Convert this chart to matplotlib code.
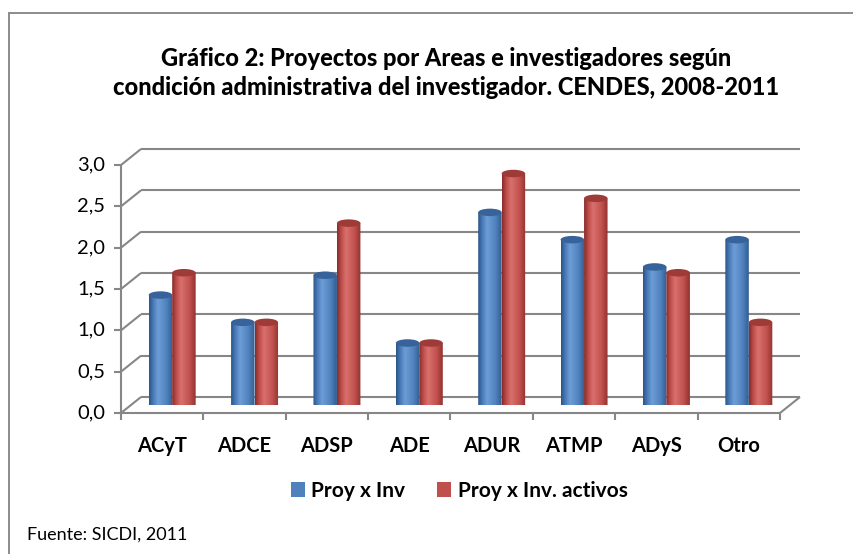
import numpy as np
import matplotlib
matplotlib.use("Agg")
import matplotlib.pyplot as plt
from matplotlib.patches import Ellipse, Patch, PathPatch
from matplotlib.path import Path
from matplotlib.colors import LinearSegmentedColormap
from matplotlib.lines import Line2D

# ---------------- data ----------------
categories = ["ACyT", "ADCE", "ADSP", "ADE", "ADUR", "ATMP", "ADyS", "Otro"]
proy_x_inv = [1.33, 1.00, 1.57, 0.75, 2.33, 2.00, 1.67, 2.00]
proy_x_inv_activos = [1.60, 1.00, 2.20, 0.75, 2.80, 2.50, 1.60, 1.00]
series_names = ["Proy x Inv", "Proy x Inv. activos"]
y_ticks = [0.0, 0.5, 1.0, 1.5, 2.0, 2.5, 3.0]
y_tick_labels = ["0,0", "0,5", "1,0", "1,5", "2,0", "2,5", "3,0"]
title = ("Gráfico 2: Proyectos por Areas e investigadores según\n"
         "condición administrativa del investigador. CENDES, 2008-2011")
source = "Fuente: SICDI, 2011"

# ---------------- style ----------------
plt.rcParams["font.family"] = ["Lato", "DejaVu Sans"]
W, H, DPI = 854, 554, 100
fig = plt.figure(figsize=(W / DPI, H / DPI), dpi=DPI)
fig.patch.set_facecolor("white")

grid_c = "#878787"
blue = ["#2a5485", "#4a7cba", "#6d9dd6", "#4f81bd", "#325d91"]
red = ["#882c2a", "#bf4e4b", "#d9706d", "#c0504d", "#92322f"]
blue_top = "#38639a"
red_top = "#9e3a37"

# bar plane (middle depth) in pixel coordinates
px_left, px_right = 131, 790
px_bottom, px_top = 405, 157
ax = fig.add_axes([px_left / W, 1 - px_bottom / H,
                   (px_right - px_left) / W, (px_bottom - px_top) / H])
ax.axis("off")

n = len(categories)
ppx = (px_right - px_left) / n      # pixels per x unit
ppy = (px_bottom - px_top) / 3.0    # pixels per y unit
ox = 10 / ppx    # half depth in x units
oy = 8 / ppy     # half depth in y units

lk = dict(color=grid_c, lw=1.5, clip_on=False, solid_capstyle="butt", zorder=1)
# back-wall gridlines and side diagonals
for v in y_ticks:
    ax.plot([ox, n + ox], [v + oy, v + oy], **lk)
    ax.plot([-ox, ox], [v - oy, v + oy], **lk)
    ax.plot([-ox - 7 / ppx, -ox], [v - oy, v - oy], **lk)
# front vertical axis
ax.plot([-ox, -ox], [-oy, 3 - oy], **lk)
# front floor edge and right floor diagonal
ax.plot([-ox, n - ox], [-oy, -oy], **lk)
ax.plot([n - ox, n + ox], [-oy, oy], **lk)
for i in range(n + 1):
    ax.plot([i - ox, i - ox], [-oy, -oy - 7 / ppy], **lk)

# ---------------- cylinders ----------------
bw = 0.285
eh = 7.5 / ppy  # ellipse height (y units)
grad = np.linspace(0, 1, 64).reshape(1, -1)


def cylinder(xc, v, cols, topc, z):
    x0, x1 = xc - bw / 2, xc + bw / 2
    t = np.linspace(np.pi, 2 * np.pi, 40)
    bx = xc + bw / 2 * np.cos(t)
    by = eh / 2 * np.sin(t)
    verts = [(x0, v)] + list(zip(bx, by)) + [(x1, v), (x0, v)]
    path = Path(verts)
    cmap = LinearSegmentedColormap.from_list(
        "c", list(zip([0, 0.18, 0.38, 0.75, 1.0], cols)))
    im = ax.imshow(grad, cmap=cmap, extent=[x0, x1, -eh, v], aspect="auto",
                   zorder=z, interpolation="bilinear")
    patch = PathPatch(path, transform=ax.transData,
                      facecolor="none", edgecolor="none")
    ax.add_patch(patch)
    im.set_clip_path(patch)
    ax.add_patch(Ellipse((xc, v), bw, eh, facecolor=topc, edgecolor="none",
                         zorder=z + 0.1))


for i in range(n):
    cylinder(i + 0.5 - bw / 2, proy_x_inv[i], blue, blue_top, 3 + i * 0.01)
    cylinder(i + 0.5 + bw / 2, proy_x_inv_activos[i], red, red_top, 4 + i * 0.01)

ax.set_xlim(0, n)
ax.set_ylim(0, 3)

# tick labels (front axis)
for v, lab in zip(y_ticks, y_tick_labels):
    ax.text(-ox - 16 / ppx, v - oy, lab, ha="right", va="center",
            fontsize=14.5, color="black", clip_on=False)
for i, c in enumerate(categories):
    ax.text(i + 0.5 - ox, -oy - 33 / ppy, c, ha="center", va="center",
            fontsize=14.5, fontweight="bold", clip_on=False)

# ---------------- title, legend, source ----------------
fig.text(446 / W, 1 - 73 / H, title, ha="center", va="center",
         fontsize=17, fontweight="black", linespacing=1.3)

handles = [Patch(facecolor="#4f81bd", edgecolor="none"),
           Patch(facecolor="#c0504d", edgecolor="none")]
fig.legend(handles, series_names, loc="center", ncol=2,
           bbox_to_anchor=(459 / W, 1 - 491 / H), frameon=False,
           prop=dict(size=15, weight="bold"), handlelength=0.7,
           handleheight=0.7, handletextpad=0.3, columnspacing=1.5)

fig.text(27 / W, 1 - 535 / H, source, ha="left", va="center", fontsize=13)

# outer chart border (cropped at right and bottom)
fig.add_artist(Line2D([8.5 / W, 8.5 / W], [0, 1 - 13 / H],
                      transform=fig.transFigure, color="#8c8c8c", lw=1.4))
fig.add_artist(Line2D([8.5 / W, 1], [1 - 13 / H, 1 - 13 / H],
                      transform=fig.transFigure, color="#8c8c8c", lw=1.4))

fig.savefig("out.png", dpi=DPI, facecolor="white")
